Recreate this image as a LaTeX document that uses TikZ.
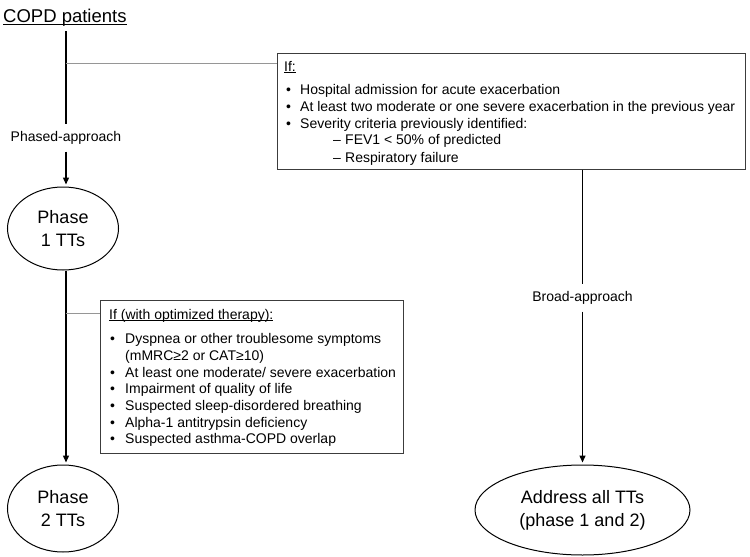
\documentclass[tikz,border=0pt]{standalone}
\usepackage{fontspec}
\setmainfont{Liberation Sans}
\usetikzlibrary{arrows.meta,shapes.geometric}
\definecolor{linkgray}{RGB}{150,150,150}
\definecolor{boxgray}{RGB}{60,60,60}
\newcommand\undl[3]{\setbox0\hbox{#1}\rlap{\vrule width\wd0 height -#2 depth #3}\box0}
\begin{document}
\begin{tikzpicture}[x=1pt,y=-1pt,
  main/.style={line width=1.4pt, black},
  arr/.style={main, -{Triangle[length=7pt,width=6pt]}, shorten >=2pt},
  graylink/.style={line width=1pt, linkgray},
  critbox/.style={draw=boxgray, line width=1pt, inner sep=0},
  txt/.style={anchor=base west, inner sep=0, font=\fontsize{14}{16}\selectfont},
  lbl/.style={inner sep=0, minimum height=27pt, font=\fontsize{14}{16}\selectfont},
  oval/.style={ellipse, draw, line width=1pt, inner sep=0, align=center, font=\fontsize{18}{23}\selectfont}]
\useasboundingbox (0,0) rectangle (750,557);
\fill[white] (0,0) rectangle (750,557);

\node[anchor=base west, inner sep=0, font=\fontsize{18.5}{22}\selectfont] (copd) at (3,22) {\undl{COPD patients}{1.6pt}{2.9pt}};
\coordinate (s0) at (66,31);
\node[lbl] (phased) at (66,138) {Phased-approach};
\node[oval, minimum width=111pt, minimum height=83pt] (ph1) at (63,228.5) {Phase\\1 TTs};
\node[oval, minimum width=111pt, minimum height=87pt] (ph2) at (63,508.5) {Phase\\2 TTs};
\node[oval, minimum width=215pt, minimum height=90pt] (addr) at (582.5,510) {Address all TTs\\(phase 1 and 2)};
\node[critbox, minimum width=468pt, minimum height=116pt] (crit1) at (511,111) {};
\node[critbox, minimum width=303pt, minimum height=153pt] (crit2) at (251.5,376.5) {};
\node[lbl] (broad) at (582.5,298) {Broad-approach};

\draw[main] (s0) -- (phased);
\draw[arr] (phased) -- (phased |- ph1.north);
\draw[arr] (phased |- ph1.south) -- (phased |- ph2.north);
\draw[main] (crit1.south -| broad) -- (broad);
\draw[arr] (broad) -- (addr);
\coordinate (j1) at (66,63);
\coordinate (j2) at (66,313);
\draw[graylink] (j1) -- (j1 -| crit1.west);
\draw[graylink] (j2) -- (j2 -| crit2.west);

% criteria box 1
\node[txt] (c1h) at (284,71) {\undl{If:}{1.3pt}{2.3pt}};
\node[txt] (c1b1) at (286,94) {\textbullet};
\node[txt] (c1i1) at (300,94) {Hospital admission for acute exacerbation};
\node[txt] (c1b2) at (286,111) {\textbullet};
\node[txt] (c1i2) at (300,111) {At least two moderate or one severe exacerbation in the previous year};
\node[txt] (c1b3) at (286,128) {\textbullet};
\node[txt] (c1i3) at (300,128) {Severity criteria previously identified:};
\node[txt] (c1d1) at (333,144) {–};
\node[txt] (c1s1) at (345,144) {FEV1 < 50\% of predicted};
\node[txt] (c1d2) at (333,162) {–};
\node[txt] (c1s2) at (345,162) {Respiratory failure};

% criteria box 2
\node[txt] (c2h) at (109,319) {\undl{If (with optimized therapy):}{1.3pt}{2.3pt}};
\node[txt] (c2b1) at (110,343) {\textbullet};
\node[txt] (c2i1) at (125,343) {Dyspnea or other troublesome symptoms};
\node[txt] (c2i1b) at (125,360) {(mMRC≥2 or CAT≥10)};
\node[txt] (c2b2) at (110,377) {\textbullet};
\node[txt] (c2i2) at (125,377) {At least one moderate/ severe exacerbation};
\node[txt] (c2b3) at (110,393) {\textbullet};
\node[txt] (c2i3) at (125,393) {Impairment of quality of life};
\node[txt] (c2b4) at (110,410) {\textbullet};
\node[txt] (c2i4) at (125,410) {Suspected sleep-disordered breathing};
\node[txt] (c2b5) at (110,427) {\textbullet};
\node[txt] (c2i5) at (125,427) {Alpha-1 antitrypsin deficiency};
\node[txt] (c2b6) at (110,443) {\textbullet};
\node[txt] (c2i6) at (125,443) {Suspected asthma-COPD overlap};
\end{tikzpicture}
\end{document}
